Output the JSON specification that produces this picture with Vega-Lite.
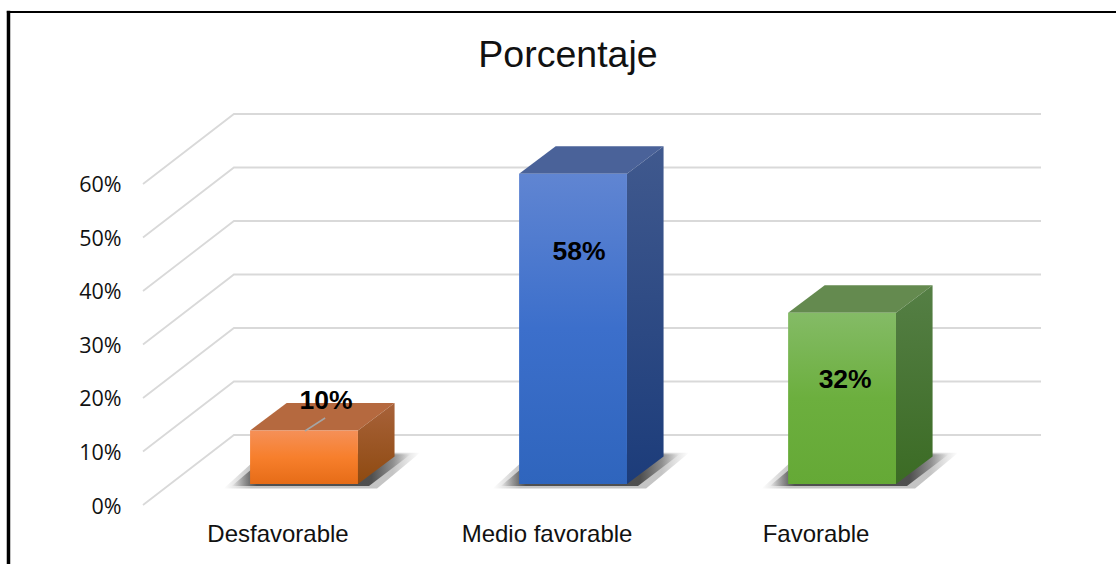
{
  "$schema": "https://vega.github.io/schema/vega-lite/v6.json",
  "autosize": "none",
  "width": 898,
  "height": 391,
  "padding": {"left": 143, "top": 114, "right": 75, "bottom": 59},
  "background": "white",
  "title": {"text": "Porcentaje", "font": "Liberation Sans", "fontSize": 37.5, "fontWeight": "normal", "color": "#111111", "anchor": "middle", "dx": -24, "offset": -66},
  "config": {"view": {"stroke": null}, "axis": {"title": null}},
  "datasets": {
    "walls": [
      {"level": 0, "x": 0, "y": 0}, {"level": 0, "x": 0.338, "y": 13.08}, {"level": 0, "x": 3.338, "y": 13.08},
      {"level": 10, "x": 0, "y": 10}, {"level": 10, "x": 0.338, "y": 23.08}, {"level": 10, "x": 3.338, "y": 23.08},
      {"level": 20, "x": 0, "y": 20}, {"level": 20, "x": 0.338, "y": 33.08}, {"level": 20, "x": 3.338, "y": 33.08},
      {"level": 30, "x": 0, "y": 30}, {"level": 30, "x": 0.338, "y": 43.08}, {"level": 30, "x": 3.338, "y": 43.08},
      {"level": 40, "x": 0, "y": 40}, {"level": 40, "x": 0.338, "y": 53.08}, {"level": 40, "x": 3.338, "y": 53.08},
      {"level": 50, "x": 0, "y": 50}, {"level": 50, "x": 0.338, "y": 63.08}, {"level": 50, "x": 3.338, "y": 63.08},
      {"level": 60, "x": 0, "y": 60}, {"level": 60, "x": 0.338, "y": 73.08}, {"level": 60, "x": 3.338, "y": 73.08}
    ],
    "shadowsOuter": [
      {"category": "Desfavorable", "y": 3.1, "x": 0.3, "x2": 0.87},
      {"category": "Desfavorable", "y": 9.75, "x": 0.446, "x2": 1.03},
      {"category": "Medio favorable", "y": 3.1, "x": 1.3, "x2": 1.87},
      {"category": "Medio favorable", "y": 9.75, "x": 1.446, "x2": 2.03},
      {"category": "Favorable", "y": 3.1, "x": 2.3, "x2": 2.87},
      {"category": "Favorable", "y": 9.75, "x": 2.446, "x2": 3.03}
    ],
    "shadowsInner": [
      {"category": "Desfavorable", "y": 3.55, "x": 0.33, "x2": 0.84},
      {"category": "Desfavorable", "y": 9.5, "x": 0.47, "x2": 0.995},
      {"category": "Medio favorable", "y": 3.55, "x": 1.33, "x2": 1.84},
      {"category": "Medio favorable", "y": 9.5, "x": 1.47, "x2": 1.995},
      {"category": "Favorable", "y": 3.55, "x": 2.33, "x2": 2.84},
      {"category": "Favorable", "y": 9.5, "x": 2.47, "x2": 2.995}
    ],
    "fronts": [
      {"category": "Desfavorable", "value": 10, "left": 0.398, "right": 0.799},
      {"category": "Medio favorable", "value": 58, "left": 1.398, "right": 1.799},
      {"category": "Favorable", "value": 32, "left": 2.398, "right": 2.799}
    ],
    "sides": [
      {"category": "Desfavorable", "x": 0.799, "low": 0, "high": 10},
      {"category": "Desfavorable", "x": 0.935, "low": 5.14, "high": 15.14},
      {"category": "Medio favorable", "x": 1.799, "low": 0, "high": 58},
      {"category": "Medio favorable", "x": 1.935, "low": 5.14, "high": 63.14},
      {"category": "Favorable", "x": 2.799, "low": 0, "high": 32},
      {"category": "Favorable", "x": 2.935, "low": 5.14, "high": 37.14}
    ],
    "tops": [
      {"category": "Desfavorable", "y": 10, "x": 0.398, "x2": 0.799},
      {"category": "Desfavorable", "y": 15.14, "x": 0.534, "x2": 0.935},
      {"category": "Medio favorable", "y": 58, "x": 1.398, "x2": 1.799},
      {"category": "Medio favorable", "y": 63.14, "x": 1.534, "x2": 1.935},
      {"category": "Favorable", "y": 32, "x": 2.398, "x2": 2.799},
      {"category": "Favorable", "y": 37.14, "x": 2.534, "x2": 2.935}
    ],
    "labels": [
      {"label": "10%", "x": 0.68, "y": 19.4},
      {"label": "58%", "x": 1.621, "y": 47.3},
      {"label": "32%", "x": 2.61, "y": 23.3}
    ],
    "leader": [{"x": 0.602, "y": 13.83, "x2": 0.677, "y2": 16.26}],
    "frame": [
      {"x": -0.5, "x2": -0.5, "y": -11.1, "y2": 92.4, "w": 3.5},
      {"x": -0.506, "x2": 3.66, "y": 92.15, "y2": 92.15, "w": 2}
    ]
  },
  "layer": [
    {
      "data": {"name": "walls"},
      "mark": {"type": "line", "stroke": "#D9D9D9", "strokeWidth": 1.8},
      "encoding": {
        "detail": {"field": "level"},
        "x": {
          "field": "x", "type": "quantitative",
          "scale": {"domain": [0, 3.338], "nice": false, "zero": false},
          "axis": {
            "title": null, "domain": false, "ticks": false, "grid": false,
            "values": [0.5, 1.5, 2.5],
            "labelExpr": "datum.value == 0.5 ? 'Desfavorable' : datum.value == 1.5 ? 'Medio favorable' : 'Favorable'",
            "labelFont": "Liberation Sans", "labelFontSize": 24, "labelColor": "#111111", "labelPadding": 17, "labelOverlap": false
          }
        },
        "y": {
          "field": "y", "type": "quantitative",
          "scale": {"domain": [0, 73.08], "nice": false, "zero": false},
          "axis": {
            "title": null, "domain": false, "ticks": false, "grid": false,
            "values": [0, 10, 20, 30, 40, 50, 60],
            "labelExpr": "datum.value + '%'",
            "labelFont": "Open Sans", "labelFontSize": 21.5, "labelColor": "#111111", "labelPadding": 22, "labelOffset": 2, "labelOverlap": false
          }
        }
      }
    },
    {
      "data": {"name": "shadowsOuter"},
      "mark": {
        "type": "area", "orient": "horizontal", "opacity": 0.3,
        "fill": {"x1": 0, "x2": 1, "y1": 0, "y2": 0, "gradient": "linear", "stops": [
          {"offset": 0, "color": "rgba(60,60,60,0)"},
          {"offset": 0.14, "color": "rgba(60,60,60,1)"},
          {"offset": 0.86, "color": "rgba(60,60,60,1)"},
          {"offset": 1, "color": "rgba(60,60,60,0)"}
        ]}
      },
      "encoding": {
        "detail": {"field": "category"},
        "y": {"field": "y", "type": "quantitative"},
        "x": {"field": "x", "type": "quantitative"},
        "x2": {"field": "x2"}
      }
    },
    {
      "data": {"name": "shadowsInner"},
      "mark": {
        "type": "area", "orient": "horizontal", "opacity": 0.8,
        "fill": {"x1": 0, "x2": 1, "y1": 0, "y2": 0, "gradient": "linear", "stops": [
          {"offset": 0, "color": "rgba(50,50,50,0)"},
          {"offset": 0.14, "color": "rgba(50,50,50,1)"},
          {"offset": 0.78, "color": "rgba(50,50,50,1)"},
          {"offset": 1, "color": "rgba(50,50,50,0)"}
        ]}
      },
      "encoding": {
        "detail": {"field": "category"},
        "y": {"field": "y", "type": "quantitative"},
        "x": {"field": "x", "type": "quantitative"},
        "x2": {"field": "x2"}
      }
    },
    {
      "data": {"name": "tops"},
      "mark": {"type": "area", "orient": "horizontal", "yOffset": -21, "y2Offset": -21},
      "encoding": {
        "y": {"field": "y", "type": "quantitative"},
        "x": {"field": "x", "type": "quantitative"},
        "x2": {"field": "x2"},
        "fill": {
          "field": "category", "type": "nominal", "legend": null,
          "scale": {"domain": ["Desfavorable", "Medio favorable", "Favorable"], "range": ["#B5693F", "#4A6299", "#648A4F"]}
        }
      }
    },
    {
      "data": {"name": "sides"},
      "transform": [{"filter": "datum.category == 'Desfavorable'"}],
      "mark": {
        "type": "area", "yOffset": -21, "y2Offset": -21,
        "fill": {"x1": 0, "x2": 0, "y1": 0, "y2": 1, "gradient": "linear", "stops": [{"offset": 0, "color": "#A8623A"}, {"offset": 1, "color": "#8E4A10"}]}
      },
      "encoding": {
        "x": {"field": "x", "type": "quantitative"},
        "y": {"field": "high", "type": "quantitative"},
        "y2": {"field": "low"}
      }
    },
    {
      "data": {"name": "sides"},
      "transform": [{"filter": "datum.category == 'Medio favorable'"}],
      "mark": {
        "type": "area", "yOffset": -21, "y2Offset": -21,
        "fill": {"x1": 0, "x2": 0, "y1": 0, "y2": 1, "gradient": "linear", "stops": [{"offset": 0, "color": "#40598E"}, {"offset": 1, "color": "#1C3C7A"}]}
      },
      "encoding": {
        "x": {"field": "x", "type": "quantitative"},
        "y": {"field": "high", "type": "quantitative"},
        "y2": {"field": "low"}
      }
    },
    {
      "data": {"name": "sides"},
      "transform": [{"filter": "datum.category == 'Favorable'"}],
      "mark": {
        "type": "area", "yOffset": -21, "y2Offset": -21,
        "fill": {"x1": 0, "x2": 0, "y1": 0, "y2": 1, "gradient": "linear", "stops": [{"offset": 0, "color": "#557F45"}, {"offset": 1, "color": "#3B6B24"}]}
      },
      "encoding": {
        "x": {"field": "x", "type": "quantitative"},
        "y": {"field": "high", "type": "quantitative"},
        "y2": {"field": "low"}
      }
    },
    {
      "data": {"name": "fronts"},
      "transform": [{"filter": "datum.category == 'Desfavorable'"}],
      "mark": {
        "type": "bar", "yOffset": -21, "y2Offset": -21,
        "fill": {"x1": 0, "x2": 0, "y1": 0, "y2": 1, "gradient": "linear", "stops": [{"offset": 0, "color": "#F59058"}, {"offset": 0.5, "color": "#F77F2C"}, {"offset": 1, "color": "#E66C17"}]}
      },
      "encoding": {
        "x": {"field": "left", "type": "quantitative"},
        "x2": {"field": "right"},
        "y": {"field": "value", "type": "quantitative"},
        "y2": {"datum": 0}
      }
    },
    {
      "data": {"name": "fronts"},
      "transform": [{"filter": "datum.category == 'Medio favorable'"}],
      "mark": {
        "type": "bar", "yOffset": -21, "y2Offset": -21,
        "fill": {"x1": 0, "x2": 0, "y1": 0, "y2": 1, "gradient": "linear", "stops": [{"offset": 0, "color": "#6085D2"}, {"offset": 0.5, "color": "#3C6FCB"}, {"offset": 1, "color": "#2F65BD"}]}
      },
      "encoding": {
        "x": {"field": "left", "type": "quantitative"},
        "x2": {"field": "right"},
        "y": {"field": "value", "type": "quantitative"},
        "y2": {"datum": 0}
      }
    },
    {
      "data": {"name": "fronts"},
      "transform": [{"filter": "datum.category == 'Favorable'"}],
      "mark": {
        "type": "bar", "yOffset": -21, "y2Offset": -21,
        "fill": {"x1": 0, "x2": 0, "y1": 0, "y2": 1, "gradient": "linear", "stops": [{"offset": 0, "color": "#84BB66"}, {"offset": 0.5, "color": "#6CAF3E"}, {"offset": 1, "color": "#65A936"}]}
      },
      "encoding": {
        "x": {"field": "left", "type": "quantitative"},
        "x2": {"field": "right"},
        "y": {"field": "value", "type": "quantitative"},
        "y2": {"datum": 0}
      }
    },
    {
      "data": {"name": "leader"},
      "mark": {"type": "rule", "stroke": "#A5A5A5", "strokeWidth": 1.5},
      "encoding": {
        "x": {"field": "x", "type": "quantitative"},
        "x2": {"field": "x2"},
        "y": {"field": "y", "type": "quantitative"},
        "y2": {"field": "y2"}
      }
    },
    {
      "data": {"name": "labels"},
      "mark": {"type": "text", "font": "Liberation Sans", "fontSize": 26.5, "fontWeight": "bold", "color": "#000000", "align": "center", "baseline": "middle"},
      "encoding": {
        "x": {"field": "x", "type": "quantitative"},
        "y": {"field": "y", "type": "quantitative"},
        "text": {"field": "label"}
      }
    },
    {
      "data": {"name": "frame"},
      "mark": {"type": "rule", "stroke": "#000000", "clip": false},
      "encoding": {
        "x": {"field": "x", "type": "quantitative"},
        "x2": {"field": "x2"},
        "y": {"field": "y", "type": "quantitative"},
        "y2": {"field": "y2"},
        "strokeWidth": {"field": "w", "type": "quantitative", "scale": null, "legend": null}
      }
    }
  ]
}
